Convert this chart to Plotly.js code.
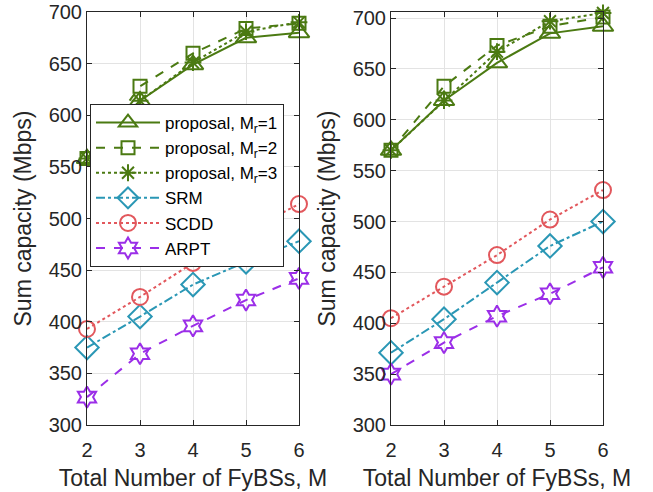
<!DOCTYPE html>
<html>
<head>
<meta charset="utf-8">
<script src="https://cdn.plot.ly/plotly-3.0.1.min.js"></script>
<style>html,body{margin:0;padding:0;background:#fff;}#chart{width:653px;height:492px;}</style>
</head>
<body>
<div id="chart"></div>
<script>
// Data
const M = [2, 3, 4, 5, 6];
const seriesNames = ["proposal, M<sub>r</sub>=1", "proposal, M<sub>r</sub>=2", "proposal, M<sub>r</sub>=3", "SRM", "SCDD", "ARPT"];
// Left panel
const leftMr1  = [558, 614, 649, 675, 680];
const leftMr2  = [558, 628, 660, 684, 689];
const leftMr3  = [558, 614, 651, 681, 690];
const leftSRM  = [375, 405, 436, 458, 478];
const leftSCDD = [393, 424, 457, 487, 514];
const leftARPT = [327, 369, 396, 421, 442];
// Right panel
const rightMr1  = [570, 619, 656, 685, 692];
const rightMr2  = [570, 633, 673, 692, 701];
const rightMr3  = [570, 619, 667, 697, 705];
const rightSRM  = [371, 404, 440, 476, 500];
const rightSCDD = [405, 436, 467, 502, 531];
const rightARPT = [350, 381, 407, 429, 455];
const yTicks = [300, 350, 400, 450, 500, 550, 600, 650, 700];

const green = "#4b7a12", teal = "#2a97b5", red = "#e2575c", purple = "#9b2ee8";
const styles = [
  {color: green, dash: "solid", symbol: "triangle-up-open", size: 18},
  {color: green, dash: "dash", symbol: "square-open", size: 13},
  {color: green, dash: "dot", symbol: "asterisk-open", size: 14},
  {color: teal, dash: "dashdot", symbol: "diamond-open", size: 18},
  {color: red, dash: "dot", symbol: "circle-open", size: 16},
  {color: purple, dash: "dash", symbol: "hexagram-open", size: 16}
];
const leftData = [leftMr1, leftMr2, leftMr3, leftSRM, leftSCDD, leftARPT];
const rightData = [rightMr1, rightMr2, rightMr3, rightSRM, rightSCDD, rightARPT];

function mk(ys, i, xa, ya, show) {
  const s = styles[i];
  return {x: M, y: ys, name: seriesNames[i], type: "scatter", mode: "lines+markers",
    xaxis: xa, yaxis: ya, showlegend: show, cliponaxis: false,
    line: {color: s.color, dash: s.dash, width: 2},
    marker: {symbol: s.symbol, size: s.size, color: s.color, line: {color: s.color, width: 2}}};
}
const traces = [];
leftData.forEach((ys, i) => traces.push(mk(ys, i, "x", "y", true)));
rightData.forEach((ys, i) => traces.push(mk(ys, i, "x2", "y2", false)));

const fam = "Liberation Sans, Arial, sans-serif";
const txt = "#262626";
const axBase = {
  showline: true, linecolor: txt, linewidth: 1, mirror: "ticks",
  ticks: "inside", ticklen: 5, tickcolor: txt,
  showgrid: true, gridcolor: "#e3e3e3", gridwidth: 1, zeroline: false,
  tickfont: {family: fam, size: 20, color: txt}
};
const titleFont = {family: fam, size: 23, color: txt};
const yDom = [1 - 425/492, 1 - 12/492];
const layout = {
  width: 653, height: 492,
  margin: {l: 0, r: 0, t: 0, b: 0},
  paper_bgcolor: "#fff", plot_bgcolor: "#fff",
  font: {family: fam, size: 16, color: txt},
  showlegend: true,
  xaxis: Object.assign({}, axBase, {domain: [87/653, 299/653], range: [2, 6], tickvals: M, anchor: "y",
    ticklabelstandoff: 7, title: {text: "Total Number of FyBSs, M", font: titleFont, standoff: 9}}),
  yaxis: Object.assign({}, axBase, {domain: yDom, range: [300, 700], tickvals: yTicks, anchor: "x",
    title: {text: "Sum capacity (Mbps)", font: titleFont, standoff: 10}}),
  xaxis2: Object.assign({}, axBase, {domain: [391/653, 603/653], range: [2, 6], tickvals: M, anchor: "y2",
    ticklabelstandoff: 7, title: {text: "Total Number of FyBSs, M", font: titleFont, standoff: 9}}),
  yaxis2: Object.assign({}, axBase, {domain: yDom, range: [300, 706], tickvals: yTicks, anchor: "x2",
    title: {text: "Sum capacity (Mbps)", font: titleFont, standoff: 10}}),
  legend: {x: 90/653, y: 1 - 104/492, xanchor: "left", yanchor: "top",
    bgcolor: "#ffffff", bordercolor: txt, borderwidth: 1,
    font: {family: fam, size: 17, color: "#000"}, tracegroupgap: 0, itemwidth: 64}
};
Plotly.newPlot("chart", traces, layout, {displayModeBar: false, staticPlot: true});
</script>
</body>
</html>
